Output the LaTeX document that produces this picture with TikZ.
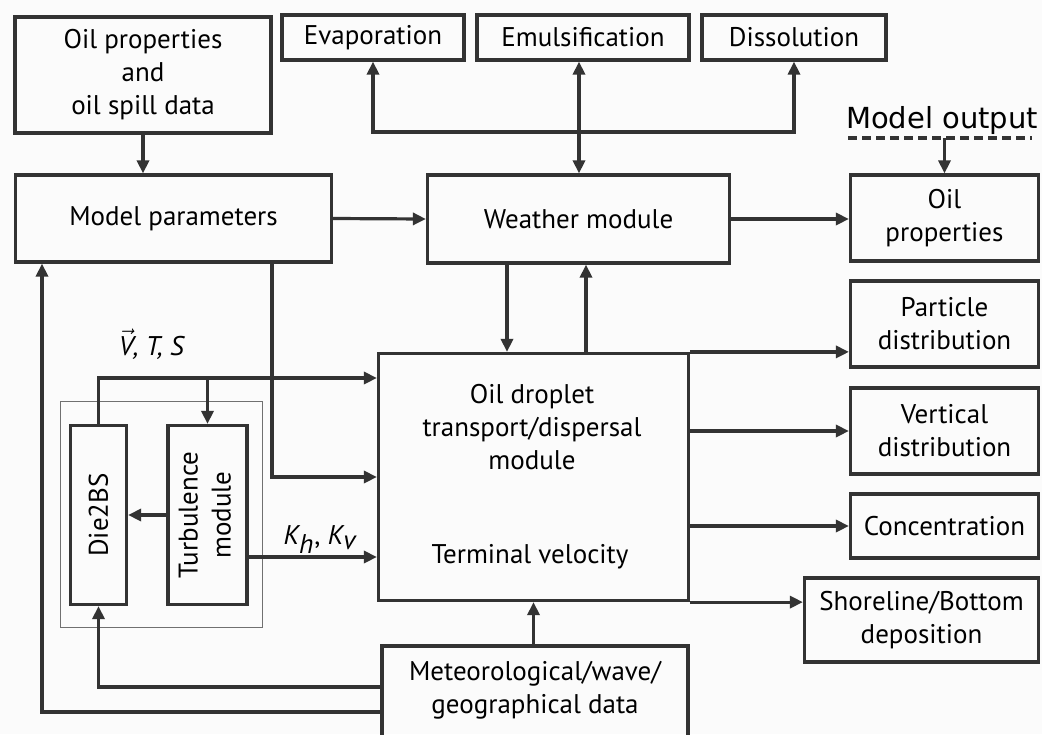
\documentclass[tikz,border=0pt]{standalone}
\usepackage{fontspec}
\setmainfont{PT Sans}
\newfontfamily\outfont{DejaVu Sans}
\usepackage{graphicx}
\usepackage{tikz}
\usetikzlibrary{positioning,arrows.meta,shapes}
\definecolor{linegray}{RGB}{51,51,51}
\definecolor{bggray}{RGB}{251,251,251}
\tikzset{}

\begin{document}
\begin{tikzpicture}[x=0.5pt,y=-0.5pt]
            \tikzset{
                os node/.style={rectangle,draw=linegray,line width=1.6pt,align=center,inner sep=0,font=\fontsize{13.5}{16.5}\selectfont},
                os text/.style={align=center,inner sep=0,font=\fontsize{13.5}{16.5}\selectfont},
                os edge/.style={draw=linegray,line width=1.6pt,-{Triangle[length=6.5pt,width=6pt]}},
                os both/.style={os edge,{Triangle[length=6.5pt,width=6pt]}-{Triangle[length=6.5pt,width=6pt]}}
            }
            \useasboundingbox (0,0) rectangle (1042,734);
            \fill[bggray] (0,0) rectangle (1042,734);
            % input side
            \node[os node,minimum width=128pt,minimum height=58pt] (oil) at (143,75) {Oil properties\\and\\oil spill data};
            \node[os node,minimum width=158pt,minimum height=43.5pt] (param) at (173.5,218.5) {Model parameters};
            % weathering
            \node[os node,minimum width=91pt,minimum height=22.5pt] (evap) at (373,37.5) {Evaporation};
            \node[os node,minimum width=106pt,minimum height=22.5pt] (emul) at (583,37.5) {Emulsification};
            \node[os node,minimum width=92pt,minimum height=22.5pt] (diss) at (794,37.5) {Dissolution};
            \node[os node,minimum width=151pt,minimum height=44pt] (weather) at (578.5,219) {Weather module};
            % transport
            \node[os node,minimum width=155pt,minimum height=123.5pt] (drop) at (533.5,477) {};
            \node[os text] (droptxt) at (532,427) {Oil droplet\\transport/dispersal\\module};
            \node[os text] (termv) at (530,557) {Terminal velocity};
            \node[os node,minimum width=153pt,minimum height=52pt] (meteo) at (535,698) {};
            \node[os text] (meteotxt) at (535,690) {Meteorological/wave/\\geographical data};
            % turbulence group
            \node[rectangle,draw=linegray!70,line width=0.5pt,minimum width=101pt,minimum height=113pt] (group) at (161,514.5) {};
            \node[os node,minimum width=28pt,minimum height=89.5pt] (die) at (98.5,515) {\rotatebox{90}{Die2BS}};
            \node[os node,minimum width=39.5pt,minimum height=89.5pt] (turb) at (207.5,515) {\rotatebox{90}{\begin{tabular}{@{}c@{}}Turbulence\\module\end{tabular}}};
            \node[os text] (vtslbl) at (152,344) {$\vec{\textit{V}}$\textit{, T, S}};
            \node[os text] (khlbl) at (320,540) {$\textit{K}_{\textit{h}}$, $\textit{K}_{\textit{v}}$};
            % outputs
            \node[os text,font=\outfont\fontsize{14.5}{16}\selectfont] (mout) at (942,120) {Model output};
            \node[os node,minimum width=94pt,minimum height=43pt] (oilout) at (944.5,218) {Oil\\properties};
            \node[os node,minimum width=94pt,minimum height=43pt] (part) at (944.5,324) {Particle\\distribution};
            \node[os node,minimum width=94pt,minimum height=43pt] (vert) at (944.5,431) {Vertical\\distribution};
            \node[os node,minimum width=94pt,minimum height=32pt] (conc) at (944.5,526) {Concentration};
            \node[os node,minimum width=117pt,minimum height=42pt] (shore) at (921.5,620) {Shoreline/Bottom\\deposition};
            \coordinate (moutl) at (848,138);
            \coordinate (moutr) at (1032,138);
            \coordinate (split) at (579,132);
            \coordinate (wdown) at (507,0);
            \coordinate (wup) at (586,0);
            \coordinate (pdrop) at (272,0);
            \coordinate (vts) at (0,378);
            \coordinate (kvel) at (0,557);
            \coordinate (fdie) at (0,687);
            \coordinate (fparam) at (42,712);
            \draw[linegray,line width=1.6pt,dash pattern=on 4.5pt off 2.5pt] (moutl) -- (moutr);
            \path[draw=linegray,line width=1.6pt]
                (oil.south) edge[os edge] (oil.south |- param.north)
                (param.east) edge[os edge] (weather.west)
                (weather.east) edge[os edge] (oilout.west |- weather.east)
                (moutl -| oilout.north) edge[os edge] (oilout.north)
                (wdown |- weather.south) edge[os edge] (wdown |- drop.north)
                (wup |- drop.north) edge[os edge] (wup |- weather.south)
                (drop.north east) edge[os edge] (part.west |- drop.north east)
                (drop.east |- vert.west) edge[os edge] (vert.west)
                (drop.east |- conc.west) edge[os edge] (conc.west)
                (drop.south east) edge[os edge] (shore.west |- drop.south east)
                (drop.south |- meteo.north) edge[os edge] (drop.south)
                (turb.west) edge[os edge] (die.east)
                (turb.east |- kvel) edge[os edge] (drop.west |- kvel)
                (turb.north |- vts) edge[os edge] (turb.north)
                ;
            \draw[os both] (split |- weather.north) -- (split |- emul.south);
            \draw[os edge] (split) -| (evap.south);
            \draw[os edge] (split) -| (diss.south);
            \draw[os edge] (pdrop |- param.south) |- (drop.west);
            \draw[os edge] (die.north) |- (drop.west |- vts);
            \draw[os edge] (meteo.west |- fdie) -| (die.south);
            \draw[os edge] (meteo.west |- fparam) -| (fparam |- param.south);
        \end{tikzpicture}
\end{document}
